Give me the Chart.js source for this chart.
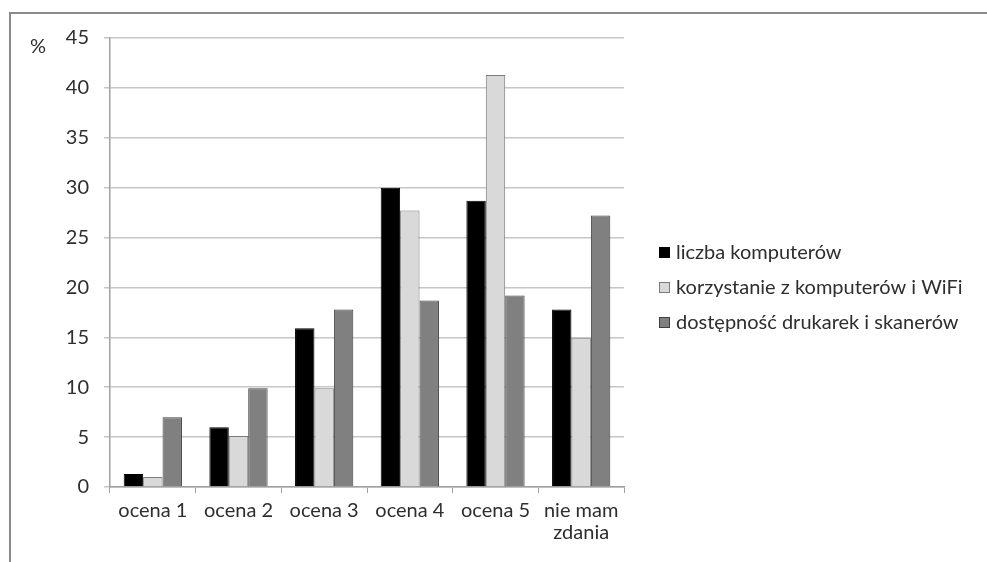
<!DOCTYPE html>
<html>
<head>
<meta charset="utf-8">
<script src="https://cdn.jsdelivr.net/npm/chart.js@4"></script>
<style>
  html, body { margin: 0; padding: 0; background: #fff; }
  #wrap { position: relative; width: 987px; height: 562px; overflow: hidden; }
  #frame { position: absolute; left: 9px; top: 12px; right: -10px; bottom: -10px;
           border-top: 2px solid #8a8a8a; border-left: 2px solid #8a8a8a; }
  canvas { position: absolute; left: 0; top: 0; }
</style>
</head>
<body>
<div id="wrap">
  <div id="frame"></div>
  <canvas id="chart" width="987" height="562"></canvas>
</div>
<script>
const categories = ['ocena 1', 'ocena 2', 'ocena 3', 'ocena 4', 'ocena 5', ['nie mam', 'zdania']];
const seriesNames = ['liczba komputerów', 'korzystanie z komputerów i WiFi', 'dostępność drukarek i skanerów'];
const liczbaKomputerow = [1.3, 6.0, 15.9, 30.0, 28.7, 17.8];
const korzystanieWifi = [1.0, 5.1, 9.9, 27.7, 41.3, 14.9];
const drukarkiSkanery = [7.0, 9.9, 17.8, 18.7, 19.2, 27.2];
const yTicks = [0, 5, 10, 15, 20, 25, 30, 35, 40, 45];

const FONT = 'Lato, "Open Sans", sans-serif';
const TEXT = '#2e2e2e';

// legend + "%" label drawn by hand at the spot the reference uses
const extras = {
  id: 'extras',
  afterDraw(chart) {
    const ctx = chart.ctx;
    ctx.save();
    ctx.font = '20px ' + FONT;
    ctx.fillStyle = TEXT;
    ctx.textBaseline = 'middle';
    ctx.fillText('%', 30, 47);
    const rows = [252, 287, 322];
    chart.data.datasets.forEach((ds, i) => {
      ctx.fillStyle = ds.backgroundColor;
      ctx.fillRect(659, rows[i] - 5, 11, 11);
      ctx.strokeStyle = ds.borderColor;
      ctx.lineWidth = 1;
      ctx.strokeRect(659.5, rows[i] - 4.5, 10, 10);
      ctx.fillStyle = TEXT;
      ctx.fillText(ds.label, 676, rows[i] + 1);
    });
    ctx.restore();
  }
};

new Chart(document.getElementById('chart'), {
  type: 'bar',
  data: {
    labels: categories,
    datasets: [
      { label: seriesNames[0], data: liczbaKomputerow, backgroundColor: '#000000', borderColor: '#000000' },
      { label: seriesNames[1], data: korzystanieWifi, backgroundColor: '#d9d9d9', borderColor: '#7a7a7a' },
      { label: seriesNames[2], data: drukarkiSkanery, backgroundColor: '#808080', borderColor: '#404040' },
    ],
  },
  options: {
    responsive: false,
    animation: false,
    layout: { padding: { left: 10, top: 38, right: 363, bottom: 0 } },
    datasets: {
      bar: { borderWidth: 1, categoryPercentage: 0.68, barPercentage: 1.0 },
    },
    plugins: {
      legend: { display: false },
      tooltip: { enabled: false },
    },
    scales: {
      x: {
        offset: true,
        grid: { offset: true, drawOnChartArea: false, color: '#a0a0a0', tickLength: 6 },
        border: { color: '#a0a0a0', width: 1.5 },
        ticks: { color: TEXT, font: { family: FONT, size: 20, lineHeight: 1.1 }, padding: 7, maxRotation: 0 },
        afterFit: s => { s.height = 75; },
      },
      y: {
        min: 0,
        max: 45,
        afterBuildTicks: s => { s.ticks = yTicks.map(v => ({ value: v })); },
        grid: { color: '#c6c6c6', lineWidth: 1.5, tickLength: 6 },
        border: { color: '#a0a0a0', width: 1.5 },
        ticks: { color: TEXT, font: { family: FONT, size: 20 }, padding: 15 },
        afterFit: s => { s.width = 100; },
      },
    },
  },
  plugins: [extras],
});
</script>
</body>
</html>
